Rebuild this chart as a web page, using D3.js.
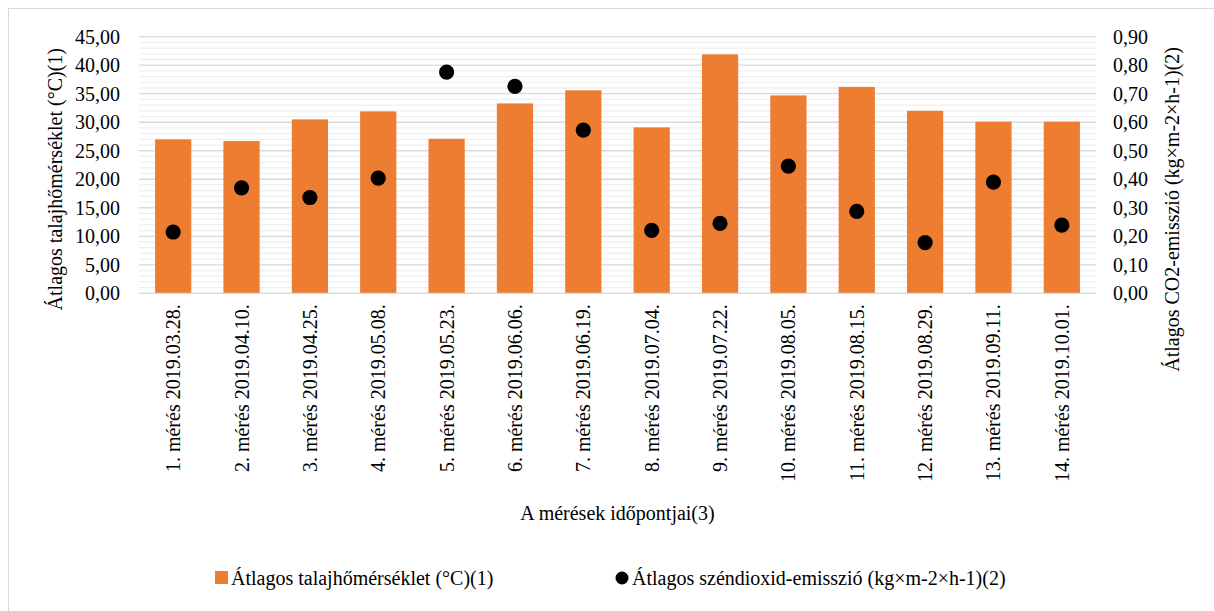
<!DOCTYPE html>
<html>
<head>
<meta charset="utf-8">
<script src="https://cdn.jsdelivr.net/npm/d3@7/dist/d3.min.js"></script>
<style>
  html, body { margin: 0; padding: 0; background: #fff; }
  svg { display: block; }
  svg text { font-family: "Liberation Serif", serif; }
</style>
</head>
<body>
<svg id="chart" width="1214" height="611" font-family="Liberation Serif"></svg>
<script>
// Measurement dates
const categories = [
  "1. mérés 2019.03.28.", "2. mérés 2019.04.10.", "3. mérés 2019.04.25.",
  "4. mérés 2019.05.08.", "5. mérés 2019.05.23.", "6. mérés 2019.06.06.",
  "7. mérés 2019.06.19.", "8. mérés 2019.07.04.", "9. mérés 2019.07.22.",
  "10. mérés 2019.08.05.", "11. mérés 2019.08.15.", "12. mérés 2019.08.29.",
  "13. mérés 2019.09.11.", "14. mérés 2019.10.01."
];
// Average soil temperature (°C)
const soilTemp = [27.0, 26.7, 30.5, 31.9, 27.1, 33.3, 35.6, 29.1, 41.9, 34.7, 36.2, 32.0, 30.1, 30.1];
// Average CO2 emission (kg×m-2×h-1)
const co2 = [0.215, 0.370, 0.336, 0.404, 0.776, 0.726, 0.572, 0.221, 0.245, 0.446, 0.287, 0.178, 0.390, 0.239];
// Tick values
const leftTicks = [0, 5, 10, 15, 20, 25, 30, 35, 40, 45];
const rightTicks = [0, 0.1, 0.2, 0.3, 0.4, 0.5, 0.6, 0.7, 0.8, 0.9];
const minorTicks = d3.range(0, 46, 1);

const labels = {
  yLeft: "Átlagos talajhőmérséklet (°C)(1)",
  yRight: "Átlagos CO2-emisszió (kg×m-2×h-1)(2)",
  x: "A mérések időpontjai(3)",
  legendBar: "Átlagos talajhőmérséklet (°C)(1)",
  legendDot: "Átlagos széndioxid-emisszió (kg×m-2×h-1)(2)"
};

const FONT = "Liberation Serif";
const svg = d3.select("#chart");
const W = 1214, H = 611;
const plot = { left: 139, right: 1096, top: 36.7, bottom: 293.3 };
const fmt = d3.format(".2f");
const comma = v => fmt(v).replace(".", ",");

// chart frame
svg.append("rect")
  .attr("x", 8.5).attr("y", 8.5)
  .attr("width", W + 20).attr("height", H + 20)
  .attr("fill", "#fff").attr("stroke", "#d9d9d9").attr("stroke-width", 1);

const x = d3.scaleBand().domain(categories).range([plot.left, plot.right]).paddingInner(0.47).paddingOuter(0.235);
const yL = d3.scaleLinear().domain([0, 45]).range([plot.bottom, plot.top]);
const yR = d3.scaleLinear().domain([0, 0.9]).range([plot.bottom, plot.top]);

// minor gridlines
svg.append("g").selectAll("line")
  .data(minorTicks.filter(d => d % 5 !== 0))
  .join("line")
  .attr("x1", plot.left).attr("x2", plot.right)
  .attr("y1", d => yL(d)).attr("y2", d => yL(d))
  .attr("stroke", "#efefef").attr("stroke-width", 1.3);

// major gridlines
svg.append("g").selectAll("line")
  .data(leftTicks)
  .join("line")
  .attr("x1", plot.left).attr("x2", plot.right)
  .attr("y1", d => yL(d)).attr("y2", d => yL(d))
  .attr("stroke", "#d9d9d9").attr("stroke-width", 1.3);

// bars
svg.append("g").selectAll("rect")
  .data(soilTemp)
  .join("rect")
  .attr("x", (d, i) => x(categories[i]))
  .attr("width", x.bandwidth())
  .attr("y", d => yL(d))
  .attr("height", d => yL(0) - yL(d))
  .attr("fill", "#ED7D31");

// baseline
svg.append("line")
  .attr("x1", plot.left).attr("x2", plot.right)
  .attr("y1", yL(0)).attr("y2", yL(0))
  .attr("stroke", "#d9d9d9").attr("stroke-width", 1.3);

// CO2 points
svg.append("g").selectAll("circle")
  .data(co2)
  .join("circle")
  .attr("cx", (d, i) => x(categories[i]) + x.bandwidth() / 2)
  .attr("cy", d => yR(d))
  .attr("r", 7.6)
  .attr("fill", "#000");

// left axis
const leftAxis = d3.axisLeft(yL).tickValues(leftTicks).tickFormat(comma).tickSize(0).tickPadding(0);
const gL = svg.append("g").attr("transform", `translate(${plot.left - 19},0)`).call(leftAxis)
  .attr("font-family", FONT).attr("font-size", 20);
gL.select(".domain").remove();
gL.selectAll("text").attr("fill", "#000").attr("dy", "0.33em");

// right axis
const rightAxis = d3.axisRight(yR).tickValues(rightTicks).tickFormat(comma).tickSize(0).tickPadding(0);
const gR = svg.append("g").attr("transform", `translate(${plot.right + 17},0)`).call(rightAxis)
  .attr("font-family", FONT).attr("font-size", 20);
gR.select(".domain").remove();
gR.selectAll("text").attr("fill", "#000").attr("dy", "0.33em");

// bottom axis (rotated category labels)
const bottomAxis = d3.axisBottom(x).tickSize(0).tickPadding(0);
const gB = svg.append("g").attr("transform", `translate(0,${plot.bottom})`).call(bottomAxis)
  .attr("font-family", FONT).attr("font-size", 20);
gB.select(".domain").remove();
gB.selectAll("text")
  .attr("fill", "#000")
  .attr("text-anchor", "end")
  .attr("transform", "translate(7,11) rotate(-90)")
  .attr("x", 0).attr("y", 0).attr("dy", 0);

// axis titles (rotated, start anchored near the top of the chart)
const titles = svg.append("g").attr("font-family", FONT).attr("font-size", 20).attr("fill", "#000");
titles.append("text")
  .attr("transform", "translate(62,48) rotate(-90)")
  .attr("text-anchor", "end").text(labels.yLeft);
titles.append("text")
  .attr("transform", "translate(1179,47) rotate(-90)")
  .attr("text-anchor", "end").text(labels.yRight);
titles.append("text")
  .attr("x", (plot.left + plot.right) / 2).attr("y", 520)
  .attr("text-anchor", "middle").text(labels.x);

// legend
const lg = svg.append("g").attr("font-family", FONT).attr("font-size", 20);
lg.append("rect").attr("x", 215).attr("y", 571).attr("width", 13).attr("height", 13).attr("fill", "#ED7D31");
lg.append("text").attr("x", 231).attr("y", 585).text(labels.legendBar);
lg.append("circle").attr("cx", 622).attr("cy", 578).attr("r", 6.5).attr("fill", "#000");
lg.append("text").attr("x", 632).attr("y", 585).text(labels.legendDot);
</script>
</body>
</html>
